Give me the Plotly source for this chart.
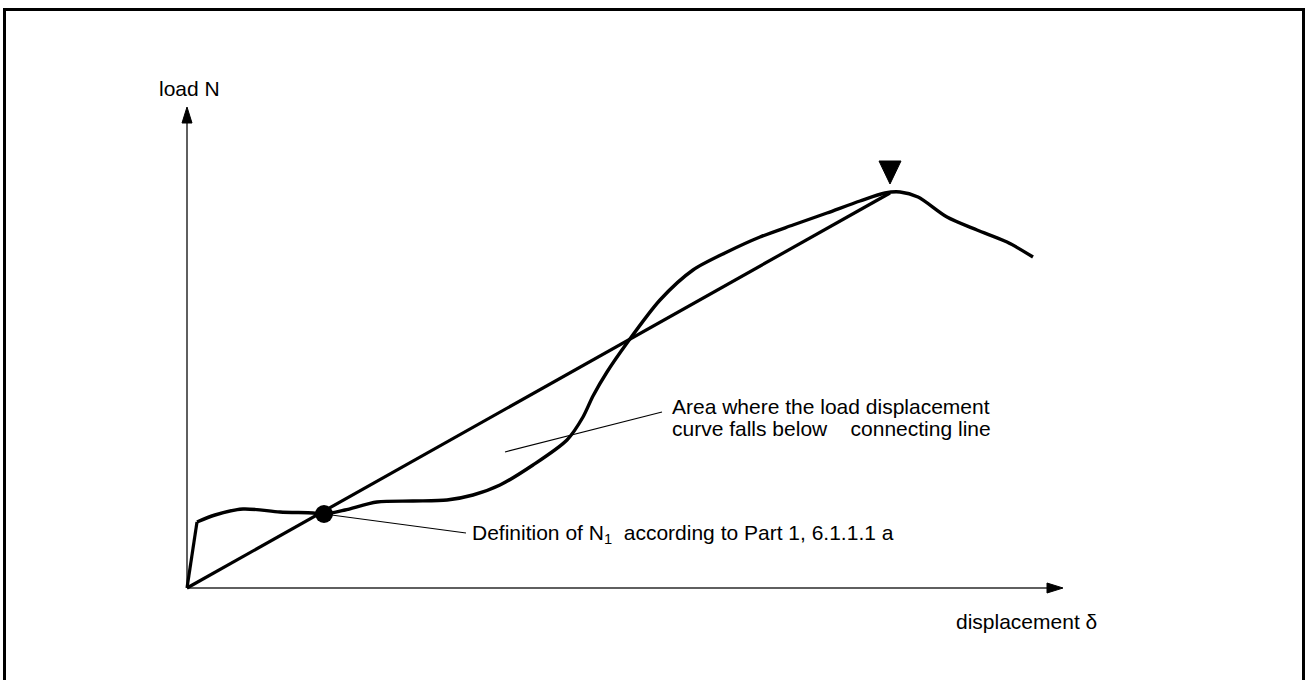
import plotly.graph_objects as go

# ---------------- data (displacement x, load y; origin at axis crossing) ----------------
start_x = [0, 10]
start_y = [0, 66]
curve_x = [10, 28, 56, 93, 126, 137, 158, 190, 226, 260, 286, 313, 346, 380, 396, 406,
           420, 440, 473, 506, 540, 573, 606, 640, 673, 698, 713, 731, 760, 790, 820, 846]
curve_y = [66, 73, 79, 76, 75, 74, 78, 86, 87, 88, 93, 103, 123, 148, 171, 192,
           216, 245, 288, 318, 336, 351, 363, 375, 387, 395, 396, 391, 371, 358, 346, 331]
conn_x = [0, 703]
conn_y = [0, 395]
n1_x, n1_y = 137, 74
peak_x, peak_y = 703, 395
axis_x_end = 876
axis_y_end = 481
ptr_def_x = [137, 279]
ptr_def_y = [74, 55]
ptr_area_x = [318, 475]
ptr_area_y = [136, 176]

label_y = "load N"
label_x = "displacement δ"
label_def = "Definition of N<sub>1</sub>\u00a0 according to Part 1, 6.1.1.1 a"
label_area1 = "Area where the load displacement"
label_area2 = "curve falls below\u00a0\u00a0\u00a0 connecting line"

# ---------------- styles ----------------
FONT = dict(family="Liberation Sans, Arial, sans-serif", size=21, color="black")
AX_COL = "#2a2a2a"
HEAD_LEN, HEAD_HALF = 16, 5
TRI_GAP, TRI_H, TRI_HALF = 9, 23, 11

fig = go.Figure()

# axes lines
fig.add_trace(go.Scatter(x=[0, 0], y=[0, axis_y_end - HEAD_LEN + 2], mode="lines",
                         line=dict(color=AX_COL, width=1.5), hoverinfo="skip"))
fig.add_trace(go.Scatter(x=[0, axis_x_end - HEAD_LEN + 2], y=[0, 0], mode="lines",
                         line=dict(color=AX_COL, width=1.5), hoverinfo="skip"))
# arrowheads (derived from axis ends)
fig.add_trace(go.Scatter(
    x=[0, -HEAD_HALF, HEAD_HALF, 0],
    y=[axis_y_end, axis_y_end - HEAD_LEN, axis_y_end - HEAD_LEN, axis_y_end],
    mode="lines", fill="toself", fillcolor="black", line=dict(color="black", width=1),
    hoverinfo="skip"))
fig.add_trace(go.Scatter(
    x=[axis_x_end, axis_x_end - HEAD_LEN, axis_x_end - HEAD_LEN, axis_x_end],
    y=[0, HEAD_HALF, -HEAD_HALF, 0],
    mode="lines", fill="toself", fillcolor="black", line=dict(color="black", width=1),
    hoverinfo="skip"))

# pointer lines
fig.add_trace(go.Scatter(x=ptr_def_x, y=ptr_def_y, mode="lines",
                         line=dict(color="black", width=1.2), hoverinfo="skip"))
fig.add_trace(go.Scatter(x=ptr_area_x, y=ptr_area_y, mode="lines",
                         line=dict(color="black", width=1.2), hoverinfo="skip"))

# connecting line
fig.add_trace(go.Scatter(x=conn_x, y=conn_y, mode="lines",
                         line=dict(color="black", width=3.2), hoverinfo="skip"))

# load-displacement curve
fig.add_trace(go.Scatter(x=start_x, y=start_y, mode="lines",
                         line=dict(color="black", width=3.2), hoverinfo="skip"))
fig.add_trace(go.Scatter(x=curve_x, y=curve_y, mode="lines",
                         line=dict(color="black", width=3.4, shape="spline", smoothing=0.8),
                         hoverinfo="skip"))

# N1 point
fig.add_trace(go.Scatter(x=[n1_x], y=[n1_y], mode="markers",
                         marker=dict(color="black", size=18, symbol="circle"), hoverinfo="skip"))

# peak triangle (derived from peak point)
fig.add_trace(go.Scatter(
    x=[peak_x - TRI_HALF, peak_x + TRI_HALF, peak_x, peak_x - TRI_HALF],
    y=[peak_y + TRI_GAP + TRI_H, peak_y + TRI_GAP + TRI_H, peak_y + TRI_GAP, peak_y + TRI_GAP + TRI_H],
    mode="lines", fill="toself", fillcolor="black", line=dict(color="black", width=1),
    hoverinfo="skip"))

def ann(x, y, text):
    fig.add_annotation(x=x, y=y, text=text, showarrow=False, xanchor="left", yanchor="middle",
                       font=FONT, borderpad=0, borderwidth=0)

ann(-28, 500, label_y)
ann(769, -33, label_x)
ann(285, 54, label_def)
ann(485, 182, label_area1)
ann(485, 160, label_area2)

# outer frame
fig.add_shape(type="rect", xref="paper", yref="paper",
              x0=4.5 / 1307, x1=1303.5 / 1307, y0=-0.05, y1=1 - 9.5 / 680,
              line=dict(color="black", width=3), fillcolor="rgba(0,0,0,0)")

fig.update_layout(
    width=1307, height=680, margin=dict(l=0, r=0, t=0, b=0),
    paper_bgcolor="white", plot_bgcolor="white", showlegend=False,
    xaxis=dict(range=[-187, 1120], visible=False, fixedrange=True),
    yaxis=dict(range=[-92, 588], visible=False, fixedrange=True),
)

fig.write_html("out.html", config={"displayModeBar": False},
               post_script="document.body.style.margin='0';document.body.style.overflow='hidden';")
